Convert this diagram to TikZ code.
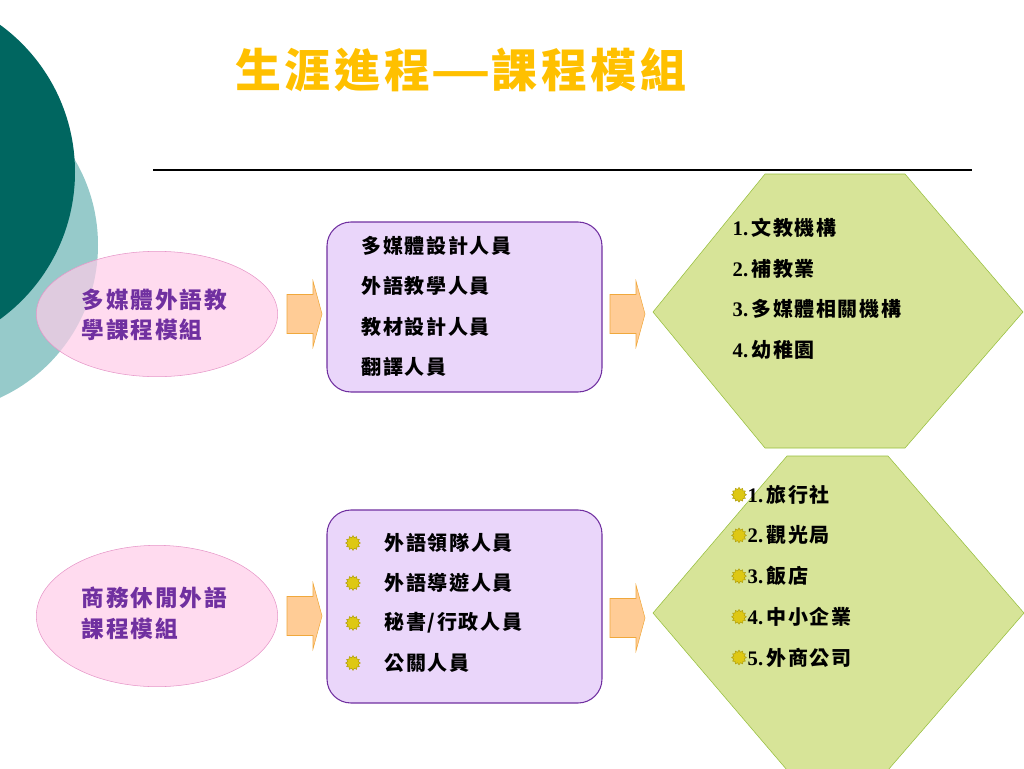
\documentclass[tikz,border=0pt]{standalone}
\usepackage{fontspec}
\usepackage{xcolor}
\usetikzlibrary{shapes.geometric}
\setmainfont{Liberation Serif}
\newfontfamily\cjk[LetterSpace=8]{Noto Sans CJK TC}
\definecolor{darkteal}{RGB}{0,102,96}
\definecolor{lightteal}{RGB}{150,202,202}
\definecolor{modfill}{RGB}{255,204,232}
\definecolor{moddraw}{RGB}{230,150,200}
\definecolor{modtext}{RGB}{112,48,160}
\definecolor{jobfill}{RGB}{234,214,250}
\definecolor{jobdraw}{RGB}{112,48,160}
\definecolor{arrfill}{RGB}{255,204,150}
\definecolor{arrdraw}{RGB}{240,168,60}
\definecolor{hexfill}{RGB}{215,228,152}
\definecolor{hexdraw}{RGB}{150,190,60}
\definecolor{titlecol}{RGB}{255,192,0}
\definecolor{sunfill}{RGB}{222,200,20}
\newcommand{\itemno}[1]{{\rmfamily\bfseries\fontsize{15.5}{16}\selectfont #1.}}

\begin{document}
\begin{tikzpicture}[x=0.75pt,y=-0.75pt,
    module/.style={ellipse,fill=modfill,fill opacity=.7,draw=moddraw,text opacity=1},
    modtextstyle/.style={anchor=west,align=left,text=modtext,font=\cjk\bfseries\fontsize{17}{23}\selectfont},
    jobbox/.style={fill=jobfill,draw=jobdraw,thick,rounded corners=18pt},
    jobline/.style={anchor=west,font=\cjk\bfseries\fontsize{15}{16}\selectfont},
    blockarrow/.style={fill=arrfill,draw=arrdraw},
    hexbox/.style={fill=hexfill,draw=hexdraw},
    sun/.style={star,star points=12,star point ratio=1.35,minimum size=11pt,inner sep=0pt,fill=sunfill,draw=sunfill!80!black}]
   \useasboundingbox (0,0) rectangle (1024,768);
   \begin{scope}
   \clip (0,0) rectangle (1024,768);
   % circles at the left border
   \fill[lightteal] (-70,245) circle (168);
   \fill[darkteal] (-107,172) circle (182);
   % title and rule
   \node[anchor=west,inner sep=0pt,text=titlecol,font=\cjk\bfseries\fontsize{34.5}{38}\selectfont] (title) at (235,70) {生涯進程\scalebox{1.45}[1]{—}課程模組};
   \draw[thick] (153,170) -- (972,170);
   % modules
   \node[module,minimum width=181pt,minimum height=94pt] (mm) at (157,314) {};
   \node[modtextstyle] (mmtext) at (77,315) {多媒體外語教\\學課程模組};
   \node[module,minimum width=181pt,minimum height=106pt] (bl) at (157,616) {};
   \node[modtextstyle] (bltext) at (77,613) {商務休閒外語\\課程模組};
   % arrows
   \foreach \x/\y in {287/314,610/314,287/616,610/618}
      \filldraw[blockarrow] (\x,\y) ++(0,-19.5) -- ++(26,0) -- ++(0,-13.5) -- ++(9,33)
         -- ++(-9,33) -- ++(0,-13.5) -- ++(-26,0) -- cycle;
   % job boxes
   \draw[jobbox] (327,222) rectangle (602,392);
   \draw[jobbox] (327,510) rectangle (602,703);
   \foreach \t [count=\i] in {多媒體設計人員,外語教學人員,教材設計人員,翻譯人員}
      \node[jobline] (ja\i) at (357,205+40.5*\i) {\t};
   \foreach \t [count=\i] in {外語領隊人員,外語導遊人員,秘書/行政人員,公關人員}
      {\node[sun] (sa\i) at (353,503+40*\i) {};
       \node[jobline] (jb\i) at (380,503+40*\i) {\t};}
   % places
   \filldraw[hexbox] (653,312) -- (765,174) -- (905,174) -- (1023,312) -- (905,448) -- (765,448) -- cycle;
   \filldraw[hexbox] (653,613) -- (787,456) -- (888,456) -- (1024,613) -- (888,770) -- (787,770) -- cycle;
   \foreach \t [count=\i] in {文教機構,補教業,多媒體相關機構,幼稚園}
      \node[jobline] (pa\i) at (728,187+40.7*\i) {\itemno{\i}\,\t};
   \foreach \t [count=\i] in {旅行社,觀光局,飯店,中小企業,外商公司}
      {\node[sun] (sb\i) at (739,454+40.7*\i) {};
       \node[jobline] (pb\i) at (743,454+40.7*\i) {\itemno{\i}\,\t};}
   \end{scope}
\end{tikzpicture}
\end{document}
